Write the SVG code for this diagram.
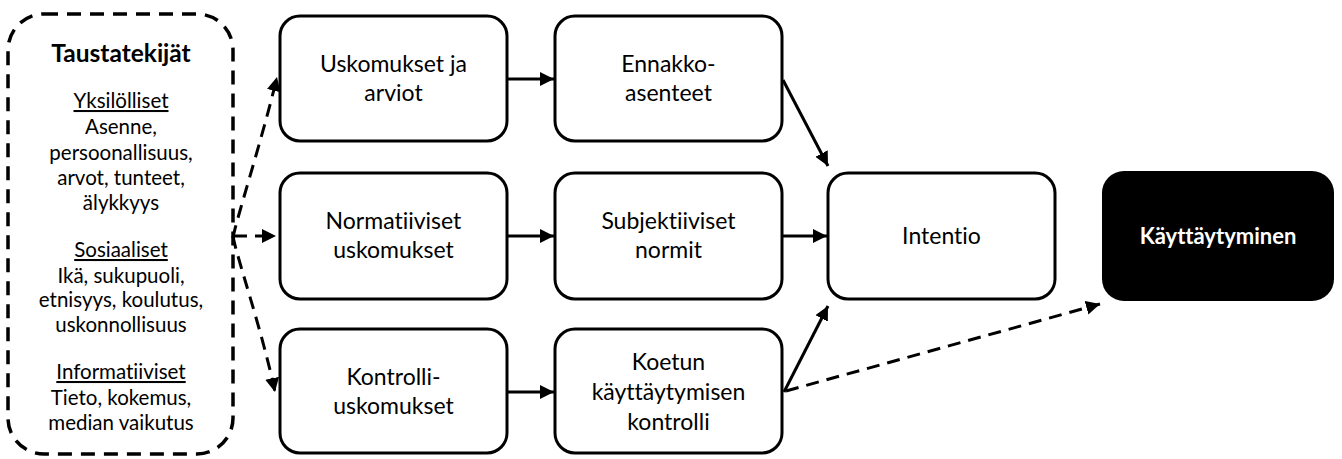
<svg xmlns="http://www.w3.org/2000/svg" width="1342" height="459" viewBox="0 0 1342 459">
<style>
text{font-variant-ligatures:none}
.box{fill:#fff;stroke:#000;stroke-width:3}
.t{font-family:Lato,"Liberation Sans",sans-serif;font-size:23px;fill:#000;text-anchor:middle}
.s{font-family:Lato,"Liberation Sans",sans-serif;font-size:20.5px;fill:#000;text-anchor:middle}
.h{font-size:24.5px;font-weight:bold}
.u{text-decoration:underline}
.b{font-weight:bold;font-size:22px}
.ln{fill:none;stroke:#000;stroke-width:3}
.dl{fill:none;stroke:#000;stroke-width:3;stroke-dasharray:13 8}
</style>
<defs>
<marker id="ah" markerUnits="userSpaceOnUse" markerWidth="15" markerHeight="15" refX="14" refY="7" orient="auto">
<path d="M0,0 L14,7 L0,14 z" fill="#000"/>
</marker>
</defs>
<g id="taustatekijat">
<rect x="8" y="14" width="225" height="440" rx="36" ry="36" fill="#fff" stroke="#000" stroke-width="3.5" stroke-dasharray="14 9"/>
<text class="t h" x="121" y="62">Taustatekijät</text>
<text class="s u" x="121" y="108">Yksilölliset</text>
<text class="s" x="121" y="134">Asenne,</text>
<text class="s" x="121" y="160">persoonallisuus,</text>
<text class="s" x="121" y="185">arvot, tunteet,</text>
<text class="s" x="121" y="210">älykkyys</text>
<text class="s u" x="121" y="257">Sosiaaliset</text>
<text class="s" x="121" y="283">Ikä, sukupuoli,</text>
<text class="s" x="121" y="307">etnisyys, koulutus,</text>
<text class="s" x="121" y="332">uskonnollisuus</text>
<text class="s u" x="121" y="379">Informatiiviset</text>
<text class="s" x="121" y="405">Tieto, kokemus,</text>
<text class="s" x="121" y="430">median vaikutus</text>
</g>
<g id="uskomukset">
<rect class="box" x="280" y="16" width="227" height="125" rx="20"/>
<text class="t" x="393.5" y="72">Uskomukset ja</text>
<text class="t" x="393.5" y="101">arviot</text>
</g>
<g id="ennakkoasenteet">
<rect class="box" x="555" y="16" width="227" height="125" rx="20"/>
<text class="t" x="668.5" y="72">Ennakko-</text>
<text class="t" x="668.5" y="101">asenteet</text>
</g>
<g id="normatiiviset">
<rect class="box" x="280" y="173" width="227" height="126" rx="20"/>
<text class="t" x="393.5" y="229">Normatiiviset</text>
<text class="t" x="393.5" y="258">uskomukset</text>
</g>
<g id="subjektiiviset">
<rect class="box" x="555" y="173" width="227" height="126" rx="20"/>
<text class="t" x="668.5" y="229">Subjektiiviset</text>
<text class="t" x="668.5" y="258">normit</text>
</g>
<g id="kontrolli">
<rect class="box" x="280" y="329" width="227" height="124" rx="20"/>
<text class="t" x="393.5" y="385">Kontrolli-</text>
<text class="t" x="393.5" y="414">uskomukset</text>
</g>
<g id="koetun">
<rect class="box" x="555" y="329" width="227" height="124" rx="20"/>
<text class="t" x="668.5" y="370">Koetun</text>
<text class="t" x="668.5" y="400">käyttäytymisen</text>
<text class="t" x="668.5" y="430">kontrolli</text>
</g>
<g id="intentio">
<rect class="box" x="828" y="173" width="227" height="126" rx="20"/>
<text class="t" x="941.5" y="244">Intentio</text>
</g>
<g id="kayttaytyminen">
<rect x="1102" y="171" width="232" height="130" rx="22" fill="#000"/>
<text class="t b" x="1218" y="244" style="fill:#fff">Käyttäytyminen</text>
</g>
<g id="connectors">
<path class="ln" d="M508,79 L554,79" marker-end="url(#ah)"/>
<path class="ln" d="M508,236 L554,236" marker-end="url(#ah)"/>
<path class="ln" d="M508,392 L554,392" marker-end="url(#ah)"/>
<path class="ln" d="M783,236 L827,236" marker-end="url(#ah)"/>
<path class="ln" d="M783,80 L828,166" marker-end="url(#ah)"/>
<path class="ln" d="M784,392 L828,306" marker-end="url(#ah)"/>
<path class="dl" d="M786,391 L1100,304" marker-end="url(#ah)"/>
<path class="dl" d="M234,236 L276,236" marker-end="url(#ah)"/>
<path class="dl" d="M233,238 C236,220 262,140 277,77" marker-end="url(#ah)"/>
<path class="dl" d="M233,236 C236,255 262,330 275,392" marker-end="url(#ah)"/>
</g>
</svg>
